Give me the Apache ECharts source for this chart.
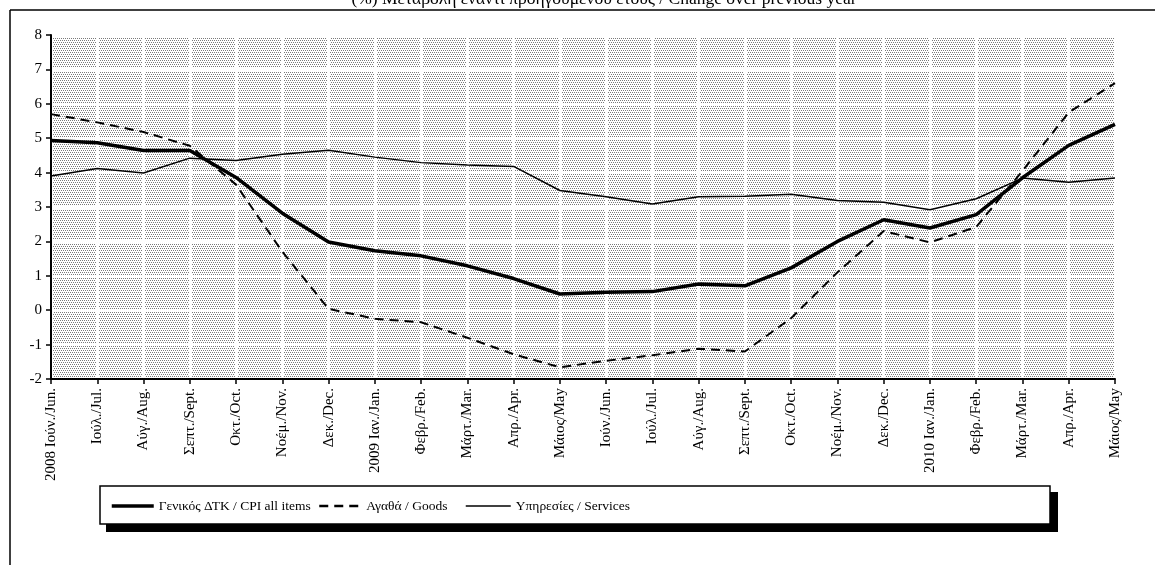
<!DOCTYPE html>
<html><head><meta charset="utf-8">
<script src="https://cdn.jsdelivr.net/npm/echarts@6/dist/echarts.min.js"></script>
<style>html,body{margin:0;padding:0;background:#fff}#c{width:1155px;height:565px}</style>
</head><body><div id="c"></div>
<script>
const categories = ["2008 Ιούν./Jun.","Ιούλ./Jul.","Αύγ./Aug.","Σεπτ./Sept.","Οκτ./Oct.","Νοέμ./Nov.","Δεκ./Dec.","2009 Ιαν./Jan.","Φεβρ./Feb.","Μάρτ./Mar.","Απρ./Apr.","Μάιος/May","Ιούν./Jun.","Ιούλ./Jul.","Αύγ./Aug.","Σεπτ./Sept.","Οκτ./Oct.","Νοέμ./Nov.","Δεκ./Dec.","2010 Ιαν./Jan.","Φεβρ./Feb.","Μάρτ./Mar.","Απρ./Apr.","Μάιος/May"];
const cpi      = [4.93,4.87,4.64,4.64,3.86,2.82,1.98,1.73,1.58,1.29,0.92,0.47,0.52,0.54,0.76,0.71,1.23,2.0,2.63,2.39,2.78,3.85,4.79,5.4];
const goods    = [5.7,5.46,5.18,4.78,3.65,1.7,0.04,-0.25,-0.35,-0.8,-1.28,-1.66,-1.47,-1.31,-1.12,-1.2,-0.23,1.1,2.3,1.97,2.42,4.05,5.75,6.6];
const services = [3.9,4.12,3.99,4.42,4.35,4.53,4.65,4.45,4.29,4.22,4.18,3.48,3.3,3.09,3.3,3.31,3.37,3.19,3.14,2.92,3.24,3.84,3.72,3.84];
const yTicks = {min:-2, max:8, interval:1};
const seriesNames = ["Γενικός ΔΤΚ / CPI all items","Αγαθά / Goods","Υπηρεσίες / Services"];
const titleText = "(%) Μεταβολή έναντι προηγούμενου έτους / Change over previous year";

// dotted pattern
const pc = document.createElement('canvas'); pc.width = 4; pc.height = 4;
const px = pc.getContext('2d');
px.fillStyle = '#ffffff'; px.fillRect(0,0,4,4);
px.fillStyle = '#7a7a7a';
px.fillRect(0,0,1,1); px.fillRect(2,0,1,1); px.fillRect(1,2,1,1); px.fillRect(3,2,1,1);
const pattern = {image: pc, repeat: 'repeat'};

const FONT = '"Liberation Serif","DejaVu Serif",serif';
const chart = echarts.init(document.getElementById('c'), null, {renderer:'canvas'});
const legendBase = {orient:'horizontal', top: 494, itemWidth: 42, itemHeight: 10, itemGap: 0,
  itemStyle:{opacity:0},
  textStyle:{fontFamily:FONT, fontSize:13.5, color:'#000'}, selectedMode:false};
chart.setOption({
  animation:false,
  backgroundColor:'#fff',
  grid:{left:51, right:40, top:35, bottom:186, show:true, backgroundColor:pattern, borderWidth:0},
  legend:[
    Object.assign({}, legendBase, {left:105, data:[seriesNames[0]], lineStyle:{width:3.5}}),
    Object.assign({}, legendBase, {left:313, data:[seriesNames[1]], lineStyle:{width:2.5}}),
    Object.assign({}, legendBase, {left:460, itemWidth:45, data:[seriesNames[2]], lineStyle:{width:1.5}})
  ],
  graphic:[
    {type:'line', shape:{x1:10,y1:10,x2:1155,y2:10}, style:{stroke:'#000', lineWidth:1.5}, z:100},
    {type:'line', shape:{x1:10,y1:10,x2:10,y2:565}, style:{stroke:'#000', lineWidth:1.5}, z:100},
    {type:'text', x:604, y:-10, style:{text:titleText, font:'17.5px '+FONT, fill:'#000', textAlign:'center'}, z:100},
    {type:'rect', shape:{x:106,y:492,width:952,height:40}, style:{fill:'#000'}, z:-1},
    {type:'rect', shape:{x:100,y:486,width:950,height:38}, style:{fill:'#fff', stroke:'#000', lineWidth:1.5}, z:0}
  ],
  xAxis:[
    {type:'category', data:categories, boundaryGap:false, position:'bottom',
     axisLine:{show:false}, axisTick:{show:false},
     axisLabel:{rotate:90, interval:0, fontFamily:FONT, fontSize:15, color:'#000', margin:9},
     splitLine:{show:true, lineStyle:{color:'#fff', width:3}}},
    {type:'category', data:categories, boundaryGap:false, position:'bottom',
     axisLine:{show:true, onZero:true, lineStyle:{color:'#000', width:2}},
     axisTick:{show:true, interval:0, length:5, inside:false, lineStyle:{color:'#000', width:1.5}},
     axisLabel:{show:false}, splitLine:{show:false}}
  ],
  yAxis:{type:'value', min:yTicks.min, max:yTicks.max, interval:yTicks.interval,
    axisLine:{show:true, onZero:false, lineStyle:{color:'#000', width:2}},
    axisTick:{show:true, length:5, lineStyle:{color:'#000', width:1.5}},
    axisLabel:{fontFamily:FONT, fontSize:15, color:'#000', margin:9},
    splitLine:{show:true, lineStyle:{color:'#fff', width:3}}},
  series:[
    {name:seriesNames[0], type:'line', data:cpi, symbol:'none', lineStyle:{color:'#000', width:3.5}, itemStyle:{color:'#000'}, z:5},
    {name:seriesNames[1], type:'line', data:goods, symbol:'none', lineStyle:{color:'#000', width:2, type:[9,6]}, itemStyle:{color:'#000'}, z:4},
    {name:seriesNames[2], type:'line', data:services, symbol:'none', lineStyle:{color:'#000', width:1.5}, itemStyle:{color:'#000'}, z:3}
  ]
});
</script></body></html>
